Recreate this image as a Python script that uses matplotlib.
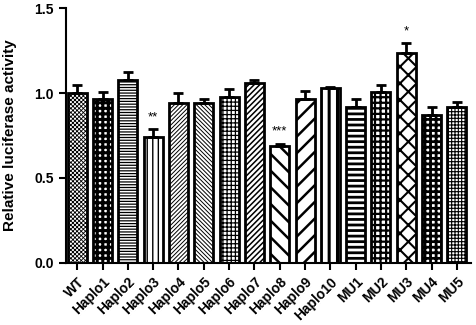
import numpy as np
import matplotlib
matplotlib.use("Agg")
import matplotlib.pyplot as plt

# ------------------------------------------------------------------
# DATA
# ------------------------------------------------------------------
groups = ["WT", "Haplo1", "Haplo2", "Haplo3", "Haplo4", "Haplo5", "Haplo6",
          "Haplo7", "Haplo8", "Haplo9", "Haplo10", "MU1", "MU2", "MU3",
          "MU4", "MU5"]
means = [1.00, 0.965, 1.076, 0.742, 0.942, 0.942, 0.976,
         1.059, 0.688, 0.966, 1.028, 0.918, 1.006, 1.235,
         0.871, 0.918]
errors = [0.05, 0.042, 0.048, 0.045, 0.06, 0.025, 0.045,
          0.02, 0.015, 0.045, 0.008, 0.046, 0.042, 0.058,
          0.046, 0.03]
stars = {"Haplo3": "**", "Haplo8": "***", "MU3": "*"}

# fill pattern and hatch line width per bar
hatches = ["xxxxxxxx", "+++", "------", "|||", "////////", "\\\\\\\\\\\\\\\\", "++++",
           "//////", "\\\\", "//", "||", "---", "+++", "xx",
           "+++", "+++++"]
hatch_lw = [0.6, 2.2, 0.9, 1.0, 0.7, 0.7, 0.9,
            1.1, 1.8, 1.8, 2.2, 2.0, 1.6, 1.5,
            2.0, 0.8]

# ------------------------------------------------------------------
# STYLE
# ------------------------------------------------------------------
plt.rcParams["font.family"] = ["Liberation Sans", "DejaVu Sans"]
plt.rcParams["font.weight"] = "bold"
plt.rcParams["hatch.linewidth"] = 1.2

fig = plt.figure(figsize=(4.77, 3.25), dpi=100)
ax = fig.add_axes([0.138, 0.191, 0.849, 0.784])

x = np.arange(len(groups))
for i in range(len(groups)):
    bars = ax.bar(x[i], means[i], width=0.75, color="white", edgecolor="black",
                  linewidth=2.0, hatch=hatches[i], zorder=2)
    for b in bars:
        try:
            b.set_hatch_linewidth(hatch_lw[i])
        except AttributeError:
            pass
ax.errorbar(x, means, yerr=[np.zeros(len(means)), errors], fmt="none",
            ecolor="black", elinewidth=2.0, capsize=3.8, capthick=2.0, zorder=3)

for name, s in stars.items():
    i = groups.index(name)
    ax.text(x[i], means[i] + errors[i] + 0.035, s, ha="center", va="bottom",
            fontsize=9.5, fontweight="normal")

ax.set_xlim(-0.45, 15.55)
ax.set_ylim(0, 1.5)
ax.set_yticks([0.0, 0.5, 1.0, 1.5])
ax.set_yticklabels(["0.0", "0.5", "1.0", "1.5"], fontsize=10, fontweight="bold")
ax.set_xticks(x)
ax.set_xticklabels(groups, rotation=45, ha="right", rotation_mode="anchor",
                   fontsize=10, fontweight="bold")
ax.set_ylabel("Relative luciferase activity", fontsize=11, fontweight="bold")
ax.yaxis.set_label_coords(-0.12, 0.5)

for side in ["top", "right"]:
    ax.spines[side].set_visible(False)
for side in ["left", "bottom"]:
    ax.spines[side].set_linewidth(1.5)
ax.tick_params(axis="both", width=1.5, length=5, direction="out")

fig.savefig("out.png", dpi=100)
